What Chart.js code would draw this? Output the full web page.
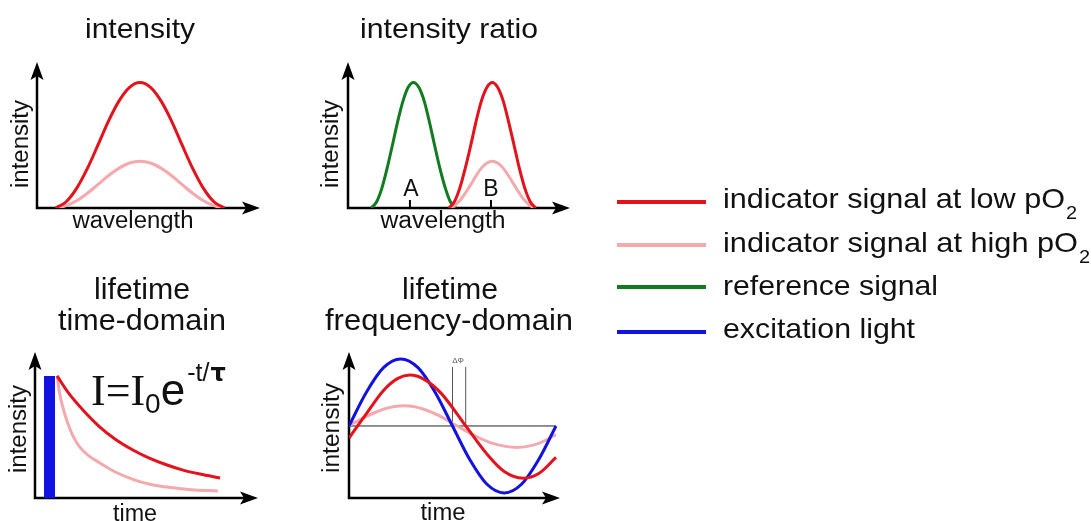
<!DOCTYPE html>
<html><head><meta charset="utf-8">
<script src="https://cdn.jsdelivr.net/npm/chart.js@4.4.1/dist/chart.umd.min.js"></script>
<style>
html,body{margin:0;padding:0;background:#fff;width:1091px;height:521px;overflow:hidden;position:relative}
canvas{position:absolute}
</style></head><body>
<canvas id="c1" width="295" height="250" style="left:0px;top:0px"></canvas>
<canvas id="c2" width="295" height="250" style="left:295px;top:0px"></canvas>
<canvas id="c3" width="300" height="266" style="left:0px;top:255px"></canvas>
<canvas id="c4" width="290" height="266" style="left:300px;top:255px"></canvas>
<canvas id="c5" width="501" height="200" style="left:590px;top:160px"></canvas>
<script>
// ---------- data (arbitrary units) ----------
// Panel 1: intensity vs wavelength
const wl1   = [8.4, 13.1, 17.9, 22.6, 27.3, 32.0, 36.8, 41.5, 46.2, 50.9, 55.6, 60.4, 65.1, 69.8, 74.5, 79.3, 84.0];
const low1  = [0, 4.3, 13.8, 27.1, 43, 59.4, 73.4, 82.7, 86, 82.7, 73.4, 59.4, 43, 27.1, 13.8, 4.3, 0];
const high1 = [0, 1.6, 5.1, 10.1, 16, 22.1, 27.3, 30.8, 32, 30.8, 27.3, 22.1, 16, 10.1, 5.1, 1.6, 0];

// Panel 2: intensity ratio
const wlRef = [10.5, 12.9, 15.3, 17.6, 20.0, 22.4, 24.8, 27.1, 29.5, 31.9, 34.3, 36.6, 39.0, 41.4, 43.8, 46.1, 48.5];
const ref2  = [0, 4.3, 13.8, 27.1, 43, 59.4, 73.4, 82.7, 86, 82.7, 73.4, 59.4, 43, 27.1, 13.8, 4.3, 0];
const wlInd = [45.5, 47.9, 50.4, 52.8, 55.3, 57.7, 60.1, 62.6, 65.0, 67.4, 69.9, 72.3, 74.8, 77.2, 79.6, 82.1, 84.5];
const low2  = [0, 4.3, 13.8, 27.1, 43, 59.4, 73.4, 82.7, 86, 82.7, 73.4, 59.4, 43, 27.1, 13.8, 4.3, 0];
const high2 = [0, 1.6, 5.1, 10.1, 16, 22.1, 27.3, 30.8, 32, 30.8, 27.3, 22.1, 16, 10.1, 5.1, 1.6, 0];
const tickLabels = ['A', 'B'];
const tickWl = [27.9, 64.4];

// Panel 3: lifetime, time domain
const tPulse = [4, 9];
const pulse  = [83.6, 83.6];
const t3Low  = [9.9, 15, 21.5, 29.1, 36, 43.9, 51, 59.2, 66, 74, 83];
const i3Low  = [83.6, 72, 60.3, 48.6, 40.3, 32.9, 27.5, 22.6, 19.3, 16.4, 13.7];
const t3High = [9.9, 11, 12.5, 14.5, 17, 20, 24, 29.1, 36, 43.9, 51, 59.2, 70, 82];
const i3High = [83.6, 72, 62, 52, 42.5, 35, 29, 24, 17.8, 12.8, 9.6, 7.5, 5.7, 4.8];

// Panel 4: lifetime, frequency domain (x in degrees of phase)
const phaseExc = [0, 30, 60, 90, 120, 150, 180, 210, 240, 270, 300, 330, 360];
const exc      = [0, 0.5, 0.87, 1, 0.87, 0.5, 0, -0.5, -0.87, -1, -0.87, -0.5, 0];
const phaseLow = [0, 30, 60, 85, 106, 130, 160, 203, 240, 270, 303, 330, 360];
const i4Low    = [-0.18, 0.18, 0.53, 0.71, 0.76, 0.70, 0.49, 0, -0.42, -0.68, -0.78, -0.71, -0.47];
const phaseHigh= [0, 30, 60, 97, 130, 160, 188, 220, 250, 292, 330, 360];
const i4High   = [0.01, 0.14, 0.25, 0.30, 0.25, 0.14, 0, -0.15, -0.26, -0.32, -0.26, -0.13];
const baseX    = [0, 360];
const baseY    = [0, 0];
const phaseMarks = [180, 203];
const phaseMarkTop = 0.88;

// legend
const legendLabels = ['indicator signal at low pO', 'indicator signal at high pO', 'reference signal', 'excitation light'];
const legendSub    = ['2', '2', '', ''];

// ---------- styling ----------
const SANS = '"Liberation Sans", Arial, sans-serif';
const SERIF = '"Liberation Serif", "Times New Roman", serif';
const RED = '#e3121b', PINK = '#f3a9ad', GREEN = '#117b1f', BLUE = '#0f12e0';
const TXT = '#111111';

const xy = (xs, ys) => xs.map((x, i) => ({x: x, y: ys[i]}));
const curve = (xs, ys, color, w) => ({data: xy(xs, ys), borderColor: color, borderWidth: w || 3,
  showLine: true, pointRadius: 0, cubicInterpolationMode: 'monotone', fill: false});

const arrowPlugin = {
  id: 'arrows',
  beforeDatasetsDraw(chart, args, opts) {
    const {left, right, top, bottom} = chart.chartArea;
    const ctx = chart.ctx;
    ctx.save();
    ctx.strokeStyle = '#000'; ctx.fillStyle = '#000'; ctx.lineWidth = 2.5;
    ctx.beginPath();
    ctx.moveTo(left, bottom + 1.2); ctx.lineTo(left, top + 12);
    ctx.moveTo(left - 1.2, bottom); ctx.lineTo(right - 12, bottom);
    ctx.stroke();
    ctx.beginPath();
    ctx.moveTo(left, top); ctx.lineTo(left + 6.5, top + 18); ctx.lineTo(left, top + 14); ctx.lineTo(left - 6.5, top + 18);
    ctx.closePath(); ctx.fill();
    ctx.beginPath();
    ctx.moveTo(right, bottom); ctx.lineTo(right - 18, bottom - 6.5); ctx.lineTo(right - 14, bottom); ctx.lineTo(right - 18, bottom + 6.5);
    ctx.closePath(); ctx.fill();
    if (opts && opts.ticks) {
      const xs = chart.scales.x;
      ctx.lineWidth = 2;
      opts.ticks.forEach(v => {
        const px = xs.getPixelForValue(v);
        ctx.beginPath(); ctx.moveTo(px, bottom); ctx.lineTo(px, bottom - 8); ctx.stroke();
      });
    }
    ctx.restore();
  }
};

const textPlugin = {
  id: 'texts',
  afterDraw(chart, args, opts) {
    const ctx = chart.ctx, ox = opts.ox || 0, oy = opts.oy || 0;
    (opts.items || []).forEach(it => {
      ctx.save();
      if (it.line) {
        ctx.strokeStyle = it.color; ctx.lineWidth = it.width;
        ctx.beginPath(); ctx.moveTo(it.line[0] - ox, it.line[1] - oy); ctx.lineTo(it.line[2] - ox, it.line[3] - oy); ctx.stroke();
        ctx.restore(); return;
      }
      ctx.fillStyle = it.color || TXT;
      ctx.textBaseline = 'alphabetic';
      if (it.runs) {
        let x = it.x - ox;
        it.runs.forEach(r => {
          ctx.font = (r.weight || 'normal') + ' ' + r.size + 'px ' + (r.font || SANS);
          const m = ctx.measureText(r.t).width;
          const sx = r.w ? r.w / m : (r.sx || 1);
          x += (r.gap || 0);
          ctx.save();
          ctx.translate(x, it.y - oy + (r.dy || 0));
          ctx.scale(sx, 1);
          ctx.textAlign = 'left';
          ctx.fillText(r.t, 0, 0);
          ctx.restore();
          x += m * sx;
        });
        ctx.restore(); return;
      }
      ctx.font = (it.weight || 'normal') + ' ' + it.size + 'px ' + (it.font || SANS);
      const m = ctx.measureText(it.t).width;
      const sx = it.w ? it.w / m : 1;
      ctx.translate(it.x - ox, it.y - oy);
      if (it.rot) ctx.rotate(-Math.PI / 2);
      ctx.scale(sx, 1);
      ctx.textAlign = it.align || 'center';
      ctx.fillText(it.t, 0, 0);
      ctx.restore();
    });
  }
};

function makeChart(id, box, area, xr, yr, datasets, items, withAxes, tickOpts) {
  const plugins = [textPlugin];
  if (withAxes) plugins.unshift(arrowPlugin);
  return new Chart(document.getElementById(id), {
    type: 'scatter',
    data: {datasets: datasets},
    options: {
      responsive: false, animation: false, devicePixelRatio: 1, events: [],
      layout: {padding: {left: area.l - box.x, right: box.x + box.w - area.r, top: area.t - box.y, bottom: box.y + box.h - area.b}},
      scales: {
        x: {type: 'linear', display: false, min: xr[0], max: xr[1]},
        y: {type: 'linear', display: false, min: yr[0], max: yr[1]}
      },
      plugins: {
        legend: {display: false}, tooltip: {enabled: false},
        arrows: tickOpts || {},
        texts: {ox: box.x, oy: box.y, items: items}
      }
    },
    plugins: plugins
  });
}

// Panel 1
makeChart('c1', {x: 0, y: 0, w: 295, h: 250}, {l: 37, r: 260, t: 62, b: 208}, [0, 100], [0, 100], [
  curve(wl1, low1, RED),
  curve(wl1, high1, PINK)
], [
  {t: 'intensity', x: 140, y: 38, size: 28, w: 110},
  {t: 'wavelength', x: 133, y: 228, size: 23, w: 121},
  {t: 'intensity', x: 28, y: 144, size: 23, w: 88, rot: true}
], true);

// Panel 2
makeChart('c2', {x: 295, y: 0, w: 295, h: 250}, {l: 348, r: 570, t: 62, b: 208}, [0, 100], [0, 100], [
  curve(wlInd, low2, RED),
  curve(wlInd, high2, PINK),
  curve(wlRef, ref2, GREEN)
], [
  {t: 'intensity ratio', x: 449, y: 38, size: 28, w: 178},
  {t: 'wavelength', x: 443, y: 228, size: 23, w: 125},
  {t: 'intensity', x: 338, y: 144, size: 23, w: 88, rot: true},
  {t: tickLabels[0], x: 411, y: 196, size: 23},
  {t: tickLabels[1], x: 491, y: 196, size: 23}
], true, {ticks: tickWl});

// Panel 3
makeChart('c3', {x: 0, y: 255, w: 300, h: 266}, {l: 35, r: 258, t: 352, b: 498}, [0, 100], [0, 100], [
  curve(t3Low, i3Low, RED),
  curve(t3High, i3High, PINK),
  {data: xy(tPulse, pulse), showLine: true, pointRadius: 0, borderWidth: 0, tension: 0, fill: 'origin', backgroundColor: BLUE, borderColor: BLUE}
], [
  {t: 'lifetime', x: 142, y: 299, size: 29, w: 96},
  {t: 'time-domain', x: 142, y: 330, size: 29, w: 168},
  {t: 'time', x: 135, y: 521, size: 23, w: 44},
  {t: 'intensity', x: 26, y: 429, size: 23, w: 88, rot: true},
  {x: 91, y: 405, runs: [
    {t: 'I=I', size: 44, font: SERIF},
    {t: '0', size: 28, dy: 8},
    {t: 'e', size: 44},
    {t: '-t/', size: 25, dy: -24, gap: 2},
    {t: 'τ', size: 24, dy: -24, weight: 'bold', font: '"DejaVu Sans", sans-serif', gap: 1}
  ]}
], true);

// Panel 4
const ds4 = [
  curve(phaseLow, i4Low, RED),
  curve(phaseExc, exc, BLUE),
  curve(phaseHigh, i4High, PINK),
  {data: xy(baseX, baseY), showLine: true, pointRadius: 0, borderWidth: 1, borderColor: '#222', tension: 0}
];
phaseMarks.forEach(p => ds4.push({data: [{x: p, y: 0}, {x: p, y: phaseMarkTop}], showLine: true, pointRadius: 0, borderWidth: 1, borderColor: '#555', tension: 0}));
makeChart('c4', {x: 300, y: 255, w: 290, h: 266}, {l: 349, r: 560, t: 352, b: 498}, [0, 367], [-1.075, 1.104], ds4, [
  {t: 'lifetime', x: 450, y: 299, size: 29, w: 96},
  {t: 'frequency-domain', x: 449, y: 330, size: 29, w: 248},
  {t: 'time', x: 443, y: 520, size: 23, w: 45},
  {t: 'intensity', x: 339, y: 428, size: 23, w: 90, rot: true},
  {t: 'ΔΦ', x: 458, y: 363, size: 8, color: '#555'}
], true);

// Legend
const legColors = [RED, PINK, GREEN, BLUE];
const legLineY = [202, 245, 287, 332];
const legBase = [208, 252, 295, 338];
const legW = [342, 355, 215, 192];
const legItems = [];
legendLabels.forEach((lab, i) => {
  legItems.push({line: [617, legLineY[i], 706, legLineY[i]], color: legColors[i], width: 4});
  const runs = [{t: lab, size: 28, w: legW[i]}];
  if (legendSub[i]) runs.push({t: legendSub[i], size: 19, dy: 11, sx: 1.05, gap: 1});
  legItems.push({x: 723, y: legBase[i], runs: runs});
});
makeChart('c5', {x: 590, y: 160, w: 501, h: 200}, {l: 600, r: 1080, t: 170, b: 350}, [0, 1], [0, 1], [], legItems, false);
</script>
</body></html>
